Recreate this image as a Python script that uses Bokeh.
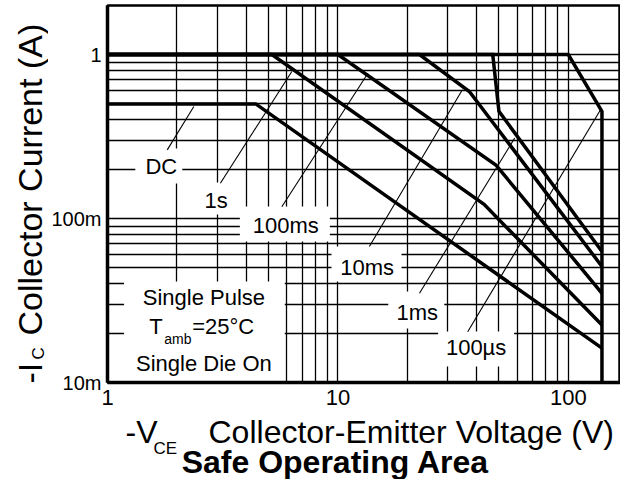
import math
from bokeh.plotting import figure
from bokeh.layouts import column, row
from bokeh.models import FixedTicker, CustomJSTickFormatter, ColumnDataSource, Range1d
from bokeh.core.properties import value
from bokeh.embed import file_html
from bokeh.resources import INLINE

FONT = "Liberation Sans"

# ---------------- data ----------------
dc_v = [1, 4.4, 140]
dc_i = [0.5, 0.5, 0.0162]
s1_v = [1, 5.17, 43.1, 140]
s1_i = [1, 1, 0.122, 0.0224]
ms100_v = [1, 10, 48.5, 140]
ms100_i = [1, 1, 0.212, 0.035]
ms10_v = [1, 22.6, 37.2, 140]
ms10_i = [1, 1, 0.595, 0.051]
ms1_v = [1, 47, 50, 140]
ms1_i = [1, 1, 0.45, 0.063]
us100_v = [1, 100, 140, 140]
us100_i = [1, 1, 0.45, 0.01]

x_ticks = [1, 10, 100]
x_tick_labels = ["1", "10", "100"]
x_minor = [2, 3, 4, 5, 6, 7, 8, 9, 20, 30, 40, 50, 60, 70, 80, 90, 200]
y_ticks = [0.01, 0.1, 1]
y_tick_labels = ["10m", "100m", "1"]
y_minor = [0.02, 0.03, 0.04, 0.05, 0.06, 0.07, 0.08, 0.09,
           0.2, 0.3, 0.4, 0.5, 0.6, 0.7, 0.8, 0.9]

# curve labels (annotation layout, data coordinates)
label_text = ["DC", "1s", "100ms", "10ms", "1ms", "100µs"]
label_x = [1.712, 2.96, 5.94, 13.4, 22.1, 39.8]
label_y = [0.2075, 0.1288, 0.0907, 0.0503, 0.0267, 0.01635]
box_x = [1.670, 2.96, 5.885, 13.31, 21.89, 39.8]
box_y = [0.2090, 0.1324, 0.0926, 0.0528, 0.02767, 0.016]
box_w = [47, 32, 90, 70, 56, 76]
box_h = [35, 32, 35, 35, 37, 35]
leader_x0 = [1.817, 3.09, 5.71, 13.7, 22.6, 36.6]
leader_y0 = [0.262, 0.164, 0.118, 0.0675, 0.035, 0.0204]
leader_x1 = [2.37, 6.31, 13.5, 34.7, 58.5, 138]
leader_y1 = [0.482, 0.788, 0.769, 0.609, 0.309, 0.46]

# ---------------- layout sizes ----------------
TOTAL_W, TOTAL_H = 620, 479
LEFT_W = 48
MAIN_W = TOTAL_W - LEFT_W
MAIN_H = 414
BOT_H = TOTAL_H - MAIN_H
FRAME_TOP, FRAME_BOTTOM = 5, 382

# ---------------- main chart ----------------
p = figure(width=MAIN_W, height=MAIN_H, x_axis_type="log", y_axis_type="log",
           x_range=Range1d(1, 168.5), y_range=Range1d(0.01, 1.99),
           output_backend="svg", toolbar_location=None,
           min_border_left=57, min_border_right=0, min_border_top=FRAME_TOP,
           min_border_bottom=MAIN_H - FRAME_BOTTOM)
p.background_fill_color = "white"
p.border_fill_color = "white"
p.outline_line_color = "black"
p.outline_line_width = 2.5

xt = FixedTicker(ticks=x_ticks, minor_ticks=x_minor)
yt = FixedTicker(ticks=y_ticks, minor_ticks=y_minor)
p.xaxis.ticker = xt
p.yaxis.ticker = yt
p.xgrid.ticker = xt
p.ygrid.ticker = yt

fmt_code = """
let best = 0, d = 1e9;
for (let i = 0; i < vals.length; i++) {
  const e = Math.abs(Math.log10(vals[i]) - Math.log10(tick));
  if (e < d) { d = e; best = i; }
}
return d < 1e-6 ? labs[best] : "";
"""
p.xaxis.formatter = CustomJSTickFormatter(args=dict(vals=x_ticks, labs=x_tick_labels), code=fmt_code)
p.yaxis.formatter = CustomJSTickFormatter(args=dict(vals=y_ticks, labs=y_tick_labels), code=fmt_code)

for ax in (p.xaxis, p.yaxis):
    ax.axis_line_width = 3.5
    ax.axis_line_color = "black"
    ax.major_tick_line_color = None
    ax.minor_tick_line_color = None
    ax.major_tick_out = 0
    ax.major_tick_in = 0
    ax.minor_tick_out = 0
    ax.minor_tick_in = 0
    ax.major_label_text_font = FONT
    ax.major_label_text_color = "black"
p.xaxis.major_label_text_font_size = "22px"
p.yaxis.major_label_text_font_size = "20px"
p.xaxis.major_label_standoff = 7
p.yaxis.major_label_standoff = 6

for g in (p.xgrid, p.ygrid):
    g.grid_line_color = "black"
    g.grid_line_width = 1.3
    g.grid_line_alpha = 1
    g.minor_grid_line_color = "black"
    g.minor_grid_line_width = 1.3
    g.minor_grid_line_alpha = 1

# white boxes behind labels
p.rect(x=box_x, y=box_y, width=box_w, height=box_h, width_units="screen",
       height_units="screen", fill_color="white", line_color=None)
p.quad(left=[1.18], right=[5.88], bottom=[0.0101], top=[0.0413],
       fill_color="white", line_color=None)

# SOA curves
for vx, iy in [(dc_v, dc_i), (s1_v, s1_i), (ms100_v, ms100_i),
               (ms10_v, ms10_i), (ms1_v, ms1_i), (us100_v, us100_i)]:
    p.line(vx, iy, line_color="black", line_width=3.5, line_join="miter")

# leader lines
p.segment(x0=leader_x0, y0=leader_y0, x1=leader_x1, y1=leader_y1,
          line_color="black", line_width=1.1)

src = ColumnDataSource(dict(x=label_x, y=label_y, t=label_text))
p.text(x="x", y="y", text="t", source=src, text_font=value(FONT),
       text_font_size="22px", text_align="center", text_baseline="middle",
       text_color="black")

# condition note
p.text(x=[2.62, 2.62], y=[0.033, 0.01305], text=["Single Pulse", "Single Die On"],
       text_font=value(FONT), text_font_size="22px", text_align="center",
       text_baseline="middle", text_color="black")
p.text(x=[1.519, 2.331], y=[0.02196, 0.02196], text=["T", "=25°C"],
       text_font=value(FONT), text_font_size="22px", text_align="left",
       text_baseline="middle", text_color="black")
p.text(x=[1.764], y=[0.01854], text=["amb"], text_font=value(FONT),
       text_font_size="14px", text_align="left", text_baseline="middle",
       text_color="black")


def strip(w, h, yr):
    f = figure(width=w, height=h, x_range=Range1d(0, w), y_range=yr,
               output_backend="svg", toolbar_location=None,
               x_axis_location=None, y_axis_location=None,
               min_border=0, min_border_left=0, min_border_right=0,
               min_border_top=0, min_border_bottom=0)
    f.outline_line_color = None
    f.grid.visible = False
    f.background_fill_color = "white"
    f.border_fill_color = "white"
    return f


# ---------------- left strip: y axis title ----------------
# its frame is aligned with the chart frame (rows 5..382); data y = MAIN_H - window y
left = strip(LEFT_W, MAIN_H, Range1d(MAIN_H - FRAME_BOTTOM, MAIN_H - FRAME_TOP))


def ltext(t, cx, wy, size):
    left.text(x=[cx], y=[MAIN_H - wy], text=[t], angle=math.pi / 2,
              text_font=value(FONT), text_font_size=f"{size}px",
              text_align="left", text_baseline="middle", text_color="black")


ltext("-I", 29.5, 383, 34)
ltext("C", 38, 359, 17)
ltext("Collector Current (A)", 29.5, 335, 34)

# ---------------- bottom strip: x axis title and chart title ----------------
bottom = strip(TOTAL_W, BOT_H, Range1d(0, BOT_H))


def btext(t, wx, wy, size, align="left", bold=False):
    bottom.text(x=[wx], y=[TOTAL_H - wy], text=[t],
                text_font=value(FONT), text_font_size=f"{size}px",
                text_align=align, text_baseline="middle", text_color="black",
                text_font_style="bold" if bold else "normal")


btext("-V", 125, 431, 32)
btext("CE", 153, 448, 17)
btext("Collector-Emitter Voltage (V)", 208, 431, 32)
btext("Safe Operating Area", 335, 461, 32, align="center", bold=True)

layout = column(row(left, p), bottom)
open("out.html", "w").write(file_html(layout, INLINE))
